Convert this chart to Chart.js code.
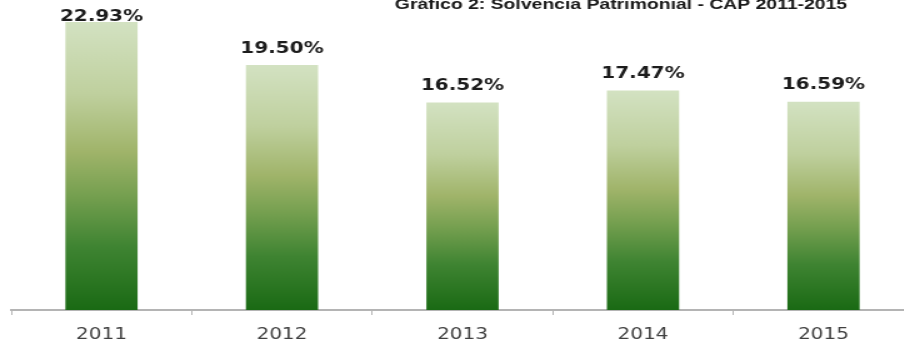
<!DOCTYPE html>
<html>
<head>
<meta charset="utf-8">
<script src="https://cdn.jsdelivr.net/npm/chart.js@4/dist/chart.umd.min.js"></script>
<style>
  html, body { margin: 0; padding: 0; background: #ffffff; overflow: hidden; }
  #wrap { position: relative; width: 904px; height: 341px; overflow: hidden; background: #ffffff; }
  #c { position: absolute; left: 0; top: -30px; transform: scaleX(1.25); transform-origin: 0 0; }
</style>
</head>
<body>
<div id="wrap"><canvas id="c" width="740" height="375"></canvas></div>
<script>
const chartTitle = 'Gráfico 2: Solvencia Patrimonial - CAP 2011-2015';
const categories = ['2011', '2012', '2013', '2014', '2015'];
const solvencia = [22.93, 19.50, 16.52, 17.47, 16.59];

const gradientStops = [
  [0.00, '#d3e2c2'],
  [0.25, '#bfd09e'],
  [0.45, '#a0b46a'],
  [0.60, '#76a050'],
  [0.78, '#3f8432'],
  [1.00, '#1a6a14']
];

const overlayText = {
  id: 'overlayText',
  afterDatasetsDraw(chart) {
    const ctx = chart.ctx;
    const area = chart.chartArea;
    const meta = chart.getDatasetMeta(0);
    ctx.save();
    ctx.fillStyle = '#1c1c1c';
    ctx.font = 'bold 16px "DejaVu Sans"';
    ctx.textAlign = 'center';
    ctx.textBaseline = 'alphabetic';
    meta.data.forEach((bar, i) => {
      const baseline = Math.max(bar.y - 12.5, area.top + 25);
      ctx.fillText(solvencia[i].toFixed(2) + '%', bar.x, baseline);
    });
    ctx.font = 'bold 15.5px "Liberation Sans"';
    ctx.fillStyle = '#1a1a1a';
    ctx.fillText(chartTitle, area.left + 0.6756 * (area.right - area.left), area.top + 12.5);
    ctx.restore();
  }
};

new Chart(document.getElementById('c'), {
  type: 'bar',
  data: {
    labels: categories,
    datasets: [{
      data: solvencia,
      backgroundColor: (context) => {
        const chart = context.chart;
        if (!chart.chartArea || context.type !== 'data') return '#76a050';
        const y = chart.scales.y;
        const top = y.getPixelForValue(solvencia[context.dataIndex]);
        const bottom = y.getPixelForValue(0);
        const g = chart.ctx.createLinearGradient(0, top, 0, bottom);
        gradientStops.forEach(s => g.addColorStop(s[0], s[1]));
        return g;
      },
      borderWidth: 0,
      categoryPercentage: 1.0,
      barPercentage: 0.4
    }]
  },
  options: {
    responsive: false,
    animation: false,
    devicePixelRatio: 1,
    layout: { padding: { top: 26, left: 9, right: 9, bottom: 0 } },
    plugins: {
      legend: { display: false },
      title: { display: false },
      tooltip: { enabled: false }
    },
    scales: {
      y: { display: false, min: 0, max: 25 },
      x: {
        offset: true,
        grid: { display: true, offset: true, drawOnChartArea: false, drawTicks: true, tickLength: 5, color: '#b4b4b4', lineWidth: 1 },
        border: { display: true, color: '#b4b4b4', width: 2 },
        ticks: { font: { family: 'DejaVu Sans', size: 16 }, color: '#404040', padding: 10 },
        afterFit: (s) => { s.height = 35; }
      }
    }
  },
  plugins: [overlayText]
});
</script>
</body>
</html>
